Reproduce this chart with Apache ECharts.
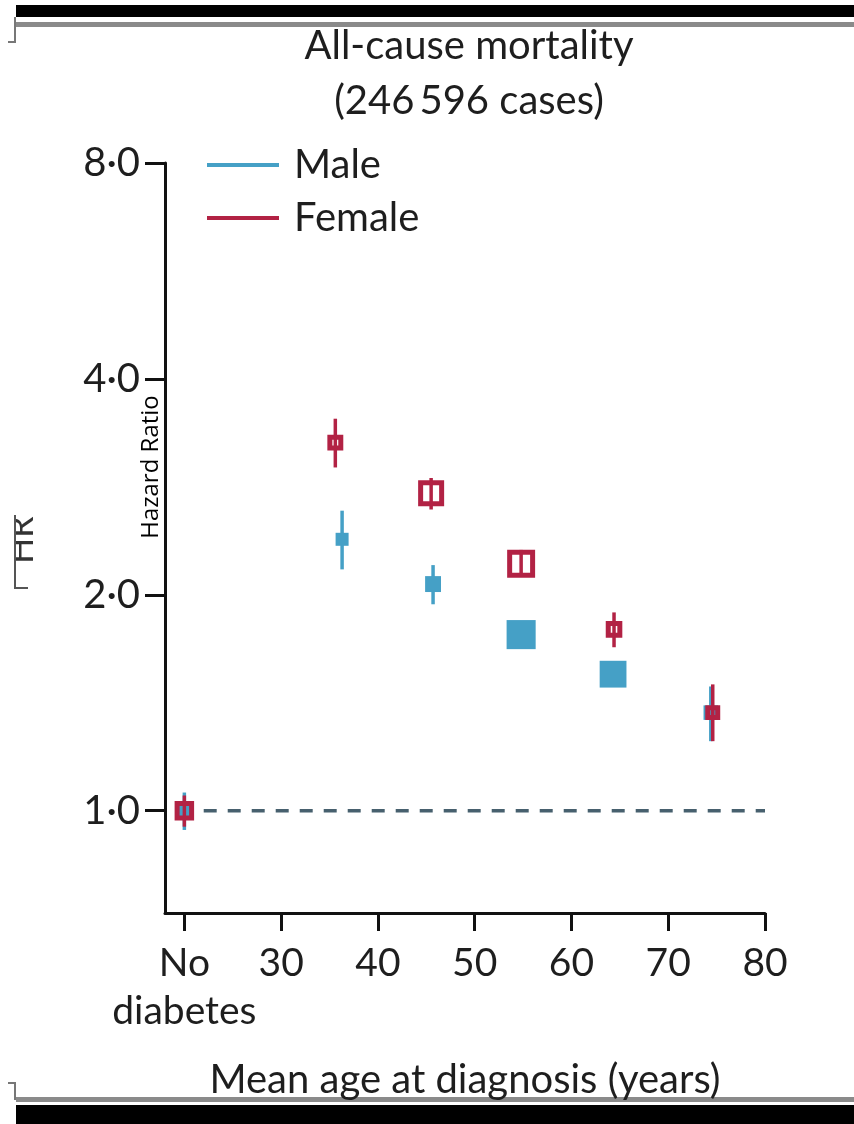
<!DOCTYPE html>
<html>
<head>
<meta charset="utf-8">
<script src="https://cdn.jsdelivr.net/npm/echarts@6/dist/echarts.min.js"></script>
<style>
  html, body { margin: 0; padding: 0; background: #fff; }
  #main { width: 854px; height: 1124px; }
</style>
</head>
<body>
<div id="main"></div>
<script>
// mean age at diagnosis (20 = "No diabetes" reference slot)
const ageMale = [20, 36.3, 45.7, 54.8, 64.3, 74.4];
const hrMale = [1.0, 2.39, 2.07, 1.76, 1.55, 1.37];
const loMale = [0.94, 2.17, 1.94, 1.72, 1.51, 1.25];
const hiMale = [1.06, 2.62, 2.20, 1.81, 1.59, 1.49];
const weightMale = [4, 4, 6, 20, 17, 5];

const ageFemale = [20, 35.6, 45.5, 54.8, 64.4, 74.6];
const hrFemale = [1.0, 3.26, 2.77, 2.21, 1.79, 1.37];
const loFemale = [0.95, 3.01, 2.63, 2.12, 1.69, 1.25];
const hiFemale = [1.05, 3.52, 2.91, 2.31, 1.89, 1.50];
const weightFemale = [9, 6, 16, 18.5, 6.5, 5.3];

const xTicks = [20, 30, 40, 50, 60, 70, 80];
const yTicks = [1, 2, 4, 8];
const refAges = [22, 80];
const refHR = 1;

const BLUE = "#45a0c6";
const RED = "#b22244";
const TXT = "#1e1e1e";
const FONT = "Lato, 'Liberation Sans', sans-serif";

const chart = echarts.init(document.getElementById("main"));

function forestItem(color, hollow) {
  return function (params, api) {
    const x = api.value(0);
    const c = api.coord([x, api.value(1)]);
    const lo = api.coord([x, api.value(2)]);
    const hi = api.coord([x, api.value(3)]);
    const s = 6.5 * Math.sqrt(api.value(4));
    const lw = 5;
    const box = hollow
      ? { type: "rect", shape: { x: c[0] - (s - lw) / 2, y: c[1] - (s - lw) / 2, width: s - lw, height: s - lw },
          style: { fill: "none", stroke: color, lineWidth: lw } }
      : { type: "rect", shape: { x: c[0] - s / 2, y: c[1] - s / 2, width: s, height: s },
          style: { fill: color } };
    return {
      type: "group",
      children: [
        { type: "line", shape: { x1: c[0], y1: hi[1], x2: c[0], y2: lo[1] },
          style: { stroke: color, lineWidth: 3.5 } },
        box
      ]
    };
  };
}

const option = {
  animation: false,
  title: {
    text: "All-cause mortality\n(246\u2009596 cases)",
    left: 464,
    top: 14,
    textAlign: "center",
    textStyle: { fontFamily: FONT, fontSize: 40, fontWeight: "normal", color: TXT, lineHeight: 55 }
  },
  legend: {
    data: ["Male", "Female"],
    orient: "vertical",
    left: 207,
    top: 143,
    padding: 0,
    icon: "rect",
    itemWidth: 72,
    itemHeight: 4,
    itemGap: 9,
    textStyle: { fontFamily: FONT, fontSize: 40, color: TXT, lineHeight: 44, padding: [0, 0, 0, 10] }
  },
  grid: { left: 165, right: 89, top: 163, bottom: 211 },
  xAxis: {
    type: "value",
    min: 18,
    max: 80,
    name: "Mean age at diagnosis (years)",
    nameLocation: "middle",
    nameGap: 147,
    nameMoveOverlap: false,
    nameTextStyle: { fontFamily: FONT, fontSize: 40, color: TXT },
    axisLine: { lineStyle: { color: "#111", width: 3 } },
    axisTick: { customValues: xTicks, length: 18, lineStyle: { color: "#111", width: 3 } },
    axisLabel: {
      customValues: xTicks,
      showMinLabel: true,
      hideOverlap: false,
      margin: 26,
      fontFamily: FONT,
      fontSize: 39,
      color: TXT,
      lineHeight: 48,
      formatter: v => (v === 20 ? "No\ndiabetes" : String(v))
    },
    splitLine: { show: false }
  },
  yAxis: {
    type: "log",
    logBase: 2,
    min: 0.72,
    max: 8,
    axisLine: { show: true, lineStyle: { color: "#111", width: 3 } },
    axisTick: { show: true, customValues: yTicks, length: 20, lineStyle: { color: "#111", width: 3 } },
    axisLabel: {
      customValues: yTicks,
      margin: 25,
      fontFamily: FONT,
      fontSize: 40,
      color: TXT,
      formatter: v => v.toFixed(1).replace(".", "\u00b7")
    },
    splitLine: { show: false }
  },
  series: [
    {
      name: "ref",
      type: "line",
      data: refAges.map(a => [a, refHR]),
      symbol: "none",
      silent: true,
      lineStyle: { color: "#47606e", width: 3.5, type: [13, 11] },
      z: 1
    },
    {
      name: "Male",
      type: "custom",
      itemStyle: { color: BLUE },
      renderItem: forestItem(BLUE, false),
      encode: { x: 0, y: 1 },
      data: ageMale.map((a, i) => [a, hrMale[i], loMale[i], hiMale[i], weightMale[i]]),
      z: 2
    },
    {
      name: "Female",
      type: "custom",
      itemStyle: { color: RED },
      renderItem: forestItem(RED, true),
      encode: { x: 0, y: 1 },
      data: ageFemale.map((a, i) => [a, hrFemale[i], loFemale[i], hiFemale[i], weightFemale[i]]),
      z: 3
    }
  ],
  graphic: [
    // scan frame: black bars and grey rules top and bottom
    { type: "rect", shape: { x: 16, y: 5, width: 840, height: 12 }, style: { fill: "#000" } },
    { type: "rect", shape: { x: 16, y: 22, width: 840, height: 5 }, style: { fill: "#8a8a8a" } },
    { type: "rect", shape: { x: 16, y: 1097, width: 840, height: 5 }, style: { fill: "#8a8a8a" } },
    { type: "rect", shape: { x: 16, y: 1105, width: 840, height: 19 }, style: { fill: "#000" } },
    { type: "polyline", shape: { points: [[15, 17], [15, 42], [8, 42]] }, style: { stroke: "#777", lineWidth: 2, fill: "none" } },
    { type: "polyline", shape: { points: [[8, 1083], [15, 1083], [15, 1100]] }, style: { stroke: "#777", lineWidth: 2, fill: "none" } },
    // clipped original axis label at the left edge
    { type: "text", x: 22, y: 540, rotation: Math.PI / 2,
      style: { text: "HR", fontFamily: FONT, fontSize: 34, fill: "#333", align: "center", verticalAlign: "middle" } },
    { type: "rect", shape: { x: 0, y: 495, width: 15, height: 110 }, style: { fill: "#fff" } },
    { type: "polyline", shape: { points: [[15, 515], [15, 588], [28, 588]] }, style: { stroke: "#555", lineWidth: 2, fill: "none" } },
    // overlaid y-axis name
    { type: "text", x: 151, y: 467, rotation: Math.PI / 2,
      style: { text: "Hazard Ratio", fontFamily: "'Open Sans', sans-serif", fontSize: 24, fill: "#000", align: "center", verticalAlign: "middle" } }
  ]
};

chart.setOption(option);
</script>
</body>
</html>
